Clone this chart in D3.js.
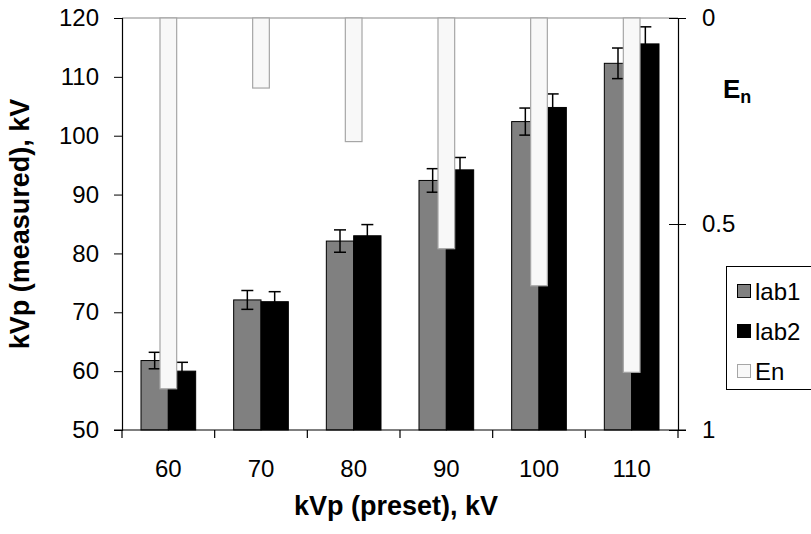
<!DOCTYPE html>
<html><head><meta charset="utf-8">
<script src="https://cdn.jsdelivr.net/npm/d3@7"></script>
<style>body{margin:0;background:#fff}svg{display:block;font-family:"Liberation Sans",Arial,sans-serif}</style>
</head><body>
<svg id="c" width="811" height="534"></svg>
<script>
const categories = ["60","70","80","90","100","110"];
const lab1 = [61.8, 72.1, 82.1, 92.4, 102.4, 112.3];
const lab2 = [60.0, 71.8, 83.0, 94.2, 104.8, 115.6];
const lab1Err = [1.4, 1.6, 1.9, 2.0, 2.3, 2.6];
const lab2Err = [1.5, 1.7, 1.9, 2.1, 2.3, 2.9];
const En = [0.90, 0.17, 0.30, 0.56, 0.65, 0.86];
const yTicks = [50,60,70,80,90,100,110,120];
const enTicks = [0, 0.5, 1];
const legendItems = ["lab1","lab2","En"];

const L=122,R=678,T=18,B=430;
const FS=24, TFS=27;
const svg=d3.select("#c");
const x=d3.scaleBand().domain(categories).range([L,R]);
const y=d3.scaleLinear().domain([50,120]).range([B,T]);
const yEn=d3.scaleLinear().domain([0,1]).range([T,B]);
const bw=x.bandwidth()*0.295;
const enW=x.bandwidth()*0.18;
const cx=c=>x(c)+x.bandwidth()/2;

// top gray line
svg.append("line").attr("x1",L).attr("x2",R).attr("y1",T).attr("y2",T).attr("stroke","#888").attr("stroke-width",1.2);

// lab1 bars
svg.append("g").selectAll("rect").data(categories).join("rect")
 .attr("x",c=>cx(c)-bw).attr("width",bw)
 .attr("y",(c,i)=>y(lab1[i])).attr("height",(c,i)=>B-y(lab1[i]))
 .attr("fill","#808080").attr("stroke","#000").attr("stroke-width",1);
// lab2 bars
svg.append("g").selectAll("rect").data(categories).join("rect")
 .attr("x",c=>cx(c)).attr("width",bw)
 .attr("y",(c,i)=>y(lab2[i])).attr("height",(c,i)=>B-y(lab2[i]))
 .attr("fill","#000").attr("stroke","#000").attr("stroke-width",1);

// error bars
function err(vals,errs,off){
  const g=svg.append("g").attr("stroke","#000").attr("stroke-width",1.5);
  categories.forEach((c,i)=>{
    const xm=cx(c)+off, y1=y(vals[i]+errs[i]), y2=y(vals[i]-errs[i]);
    g.append("line").attr("x1",xm).attr("x2",xm).attr("y1",y1).attr("y2",y2);
    g.append("line").attr("x1",xm-6).attr("x2",xm+6).attr("y1",y1).attr("y2",y1);
    g.append("line").attr("x1",xm-6).attr("x2",xm+6).attr("y1",y2).attr("y2",y2);
  });
}
err(lab1,lab1Err,-bw/2);
err(lab2,lab2Err,bw/2);

// En bars
svg.append("g").selectAll("rect").data(categories).join("rect")
 .attr("x",c=>cx(c)-enW/2).attr("width",enW)
 .attr("y",T).attr("height",(c,i)=>yEn(En[i])-T)
 .attr("fill","#f8f8f8").attr("stroke","#a6a6a6").attr("stroke-width",1.2);

// left axis
const ax=svg.append("g").attr("transform",`translate(${L},0)`)
 .call(d3.axisLeft(y).tickValues(yTicks).tickSize(8).tickPadding(15));
ax.select(".domain").attr("stroke-width",1.2);
ax.selectAll("text").attr("font-size",FS).attr("fill","#000").attr("font-family","Liberation Sans, Arial, sans-serif");
// right axis
const ar=svg.append("g").attr("transform",`translate(${R},0)`)
 .call(d3.axisRight(yEn).tickValues(enTicks).tickSize(8).tickPadding(16).tickFormat(d=>d===0?"0":d===1?"1":String(d)));
ar.select(".domain").attr("stroke-width",1.2);
ar.selectAll(".tick line").attr("x1",-9).attr("x2",8);
ar.selectAll("text").attr("font-size",FS).attr("fill","#000").attr("font-family","Liberation Sans, Arial, sans-serif");

// bottom axis
svg.append("line").attr("x1",L-8).attr("x2",R+8).attr("y1",B).attr("y2",B).attr("stroke","#000").attr("stroke-width",1.2);
svg.append("g").selectAll("line").data(categories.concat(["end"])).join("line")
 .attr("x1",(c,i)=>L+i*x.step()).attr("x2",(c,i)=>L+i*x.step())
 .attr("y1",B).attr("y2",B+8).attr("stroke","#000").attr("stroke-width",1.2);
svg.append("g").selectAll("text").data(categories).join("text")
 .attr("x",c=>cx(c)).attr("y",B+47).attr("text-anchor","middle").attr("font-size",FS).text(c=>c);

// axis titles
svg.append("text").attr("x",396).attr("y",515).attr("text-anchor","middle").attr("font-size",TFS).attr("font-weight","bold").text("kVp (preset), kV");
svg.append("text").attr("transform",`translate(29,${(T+B)/2}) rotate(-90)`).attr("text-anchor","middle").attr("font-size",TFS).attr("font-weight","bold").text("kVp (measured), kV");
const en=svg.append("text").attr("x",723).attr("y",98).attr("font-size",26).attr("font-weight","bold");
en.append("tspan").text("E");
en.append("tspan").attr("dy",5).attr("font-size",18).text("n");

// legend
const lg=svg.append("g");
lg.append("rect").attr("x",726.5).attr("y",266.5).attr("width",100).attr("height",123).attr("fill","#fff").attr("stroke","#000").attr("stroke-width",1);
const fills=["#808080","#000","#f8f8f8"], strokes=["#000","#000","#a6a6a6"];
legendItems.forEach((n,i)=>{
  const yy=291+i*40;
  lg.append("rect").attr("x",737.5).attr("y",yy-6.5).attr("width",13).attr("height",13).attr("fill",fills[i]).attr("stroke",strokes[i]);
  lg.append("text").attr("x",755).attr("y",yy+8.5).attr("font-size",FS).text(n);
});
</script>
</body></html>
